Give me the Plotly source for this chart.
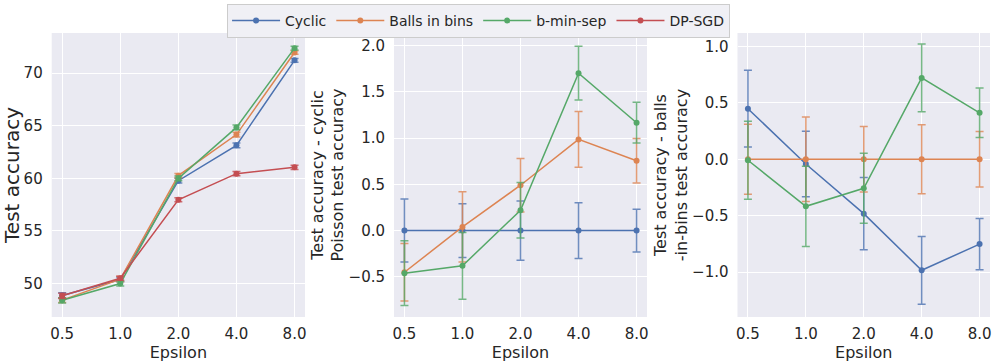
import plotly.graph_objects as go

# ---------------------------------------------------------------------------
# Data
# ---------------------------------------------------------------------------

epsilons = ["0.5", "1.0", "2.0", "4.0", "8.0"]

# Panel 1: absolute test accuracy
acc_cyclic = [48.87, 50.38, 59.77, 63.13, 71.20]
acc_cyclic_err = [0.25, 0.20, 0.22, 0.22, 0.17]
acc_balls = [48.42, 50.42, 60.25, 64.15, 71.95]
acc_balls_err = [0.22, 0.26, 0.20, 0.22, 0.17]
acc_bmin = [48.41, 50.00, 59.99, 64.83, 72.36]
acc_bmin_err = [0.25, 0.23, 0.22, 0.22, 0.17]
acc_dpsgd = [48.83, 50.50, 57.96, 60.44, 61.04]
acc_dpsgd_err = [0.25, 0.20, 0.20, 0.20, 0.20]

# Panel 2: difference vs cyclic Poisson
dc_cyclic = [0.0, 0.0, 0.0, 0.0, 0.0]
dc_cyclic_err = [0.34, 0.29, 0.32, 0.30, 0.23]
dc_balls = [-0.45, 0.04, 0.49, 0.985, 0.755]
dc_balls_err = [0.31, 0.38, 0.29, 0.30, 0.24]
dc_bmin = [-0.46, -0.38, 0.22, 1.70, 1.165]
dc_bmin_err = [0.35, 0.36, 0.30, 0.29, 0.22]

# Panel 3: difference vs balls-in-bins
db_cyclic = [0.448, -0.042, -0.482, -0.984, -0.752]
db_cyclic_err = [0.34, 0.29, 0.32, 0.30, 0.227]
db_balls = [0.0, 0.0, 0.0, 0.0, 0.0]
db_balls_err = [0.31, 0.375, 0.29, 0.306, 0.245]
db_bmin = [-0.009, -0.417, -0.257, 0.721, 0.412]
db_bmin_err = [0.345, 0.356, 0.31, 0.30, 0.22]

COLORS = {
    "Cyclic": "#4C72B0",
    "Balls in bins": "#DD8452",
    "b-min-sep": "#55A868",
    "DP-SGD": "#C44E52",
}
ERR_COLORS = {
    "Cyclic": "rgba(76,114,176,0.8)",
    "Balls in bins": "rgba(221,132,82,0.8)",
    "b-min-sep": "rgba(85,168,104,0.8)",
    "DP-SGD": "rgba(196,78,82,0.8)",
}

panels = [
    [("Cyclic", acc_cyclic, acc_cyclic_err), ("Balls in bins", acc_balls, acc_balls_err),
     ("b-min-sep", acc_bmin, acc_bmin_err), ("DP-SGD", acc_dpsgd, acc_dpsgd_err)],
    [("Cyclic", dc_cyclic, dc_cyclic_err), ("Balls in bins", dc_balls, dc_balls_err),
     ("b-min-sep", dc_bmin, dc_bmin_err)],
    [("Cyclic", db_cyclic, db_cyclic_err), ("Balls in bins", db_balls, db_balls_err),
     ("b-min-sep", db_bmin, db_bmin_err)],
]

W, H = 997, 364
TOP, BOTTOM = 33, 47
PLOT_H = H - TOP - BOTTOM
x_domains = [(51.7, 305.0), (394.0, 647.0), (737.5, 990.0)]
y_ranges = [[46.82, 73.8], [-0.933, 2.134], [-1.398, 1.119]]
y_ticks = [[50, 55, 60, 65, 70], [-0.5, 0.0, 0.5, 1.0, 1.5, 2.0], [-1.0, -0.5, 0.0, 0.5, 1.0]]
y_titles = [
    "Test accuracy",
    "Test accuracy - cyclic<br>Poisson test accuracy",
    "Test accuracy - balls<br>-in-bins test accuracy",
]
y_title_sizes = [20, 16, 16]
y_standoffs = [3, 0, 0]

FONT = "DejaVu Sans"
TEXT = "#262626"

fig = go.Figure()
for i, series in enumerate(panels):
    suffix = "" if i == 0 else str(i + 1)
    for name, vals, errs in series:
        fig.add_trace(go.Scatter(
            x=epsilons,
            y=vals,
            mode="lines+markers",
            name=name,
            legendgroup=name,
            showlegend=(i == 0),
            line=dict(color=COLORS[name], width=1.5),
            marker=dict(color=COLORS[name], size=6),
            error_y=dict(type="data", array=errs, visible=True,
                         color=ERR_COLORS[name], thickness=1.5, width=4),
            xaxis="x" + suffix,
            yaxis="y" + suffix,
        ))

layout = dict(
    width=W,
    height=H,
    margin=dict(l=0, r=0, t=TOP, b=BOTTOM, autoexpand=False),
    paper_bgcolor="white",
    plot_bgcolor="#EAEAF2",
    font=dict(family=FONT, size=15, color=TEXT),
    legend=dict(
        orientation="h",
        x=0.48, xanchor="center",
        y=1 + (TOP - 4) / PLOT_H, yanchor="top",
        bgcolor="#F0F0F5",
        bordercolor="#CCCCCC",
        borderwidth=1,
        itemwidth=48,
        font=dict(size=14, color=TEXT),
    ),
    showlegend=True,
)
for i in range(3):
    suffix = "" if i == 0 else str(i + 1)
    x0, x1 = x_domains[i]
    layout["xaxis" + suffix] = dict(
        domain=[x0 / W, x1 / W],
        type="category",
        range=[-0.18, 4.18],
        anchor="y" + suffix,
        showgrid=True, gridcolor="white", gridwidth=1.2,
        zeroline=False, showline=False,
        ticks="outside", ticklen=3, tickcolor="rgba(0,0,0,0)",
        tickfont=dict(size=15, color=TEXT),
        title=dict(text="Epsilon", font=dict(size=16, color=TEXT), standoff=0),
    )
    layout["yaxis" + suffix] = dict(
        domain=[0, 1],
        range=y_ranges[i],
        anchor="x" + suffix,
        tickmode="array",
        tickvals=y_ticks[i],
        tickformat="d" if i == 0 else ".1f",
        showgrid=True, gridcolor="white", gridwidth=1.2,
        zeroline=False, showline=False,
        ticks="outside", ticklen=5, tickcolor="rgba(0,0,0,0)",
        tickfont=dict(size=15, color=TEXT),
        title=dict(text=y_titles[i], font=dict(size=y_title_sizes[i], color=TEXT),
                   standoff=y_standoffs[i]),
    )
fig.update_layout(**layout)

# the page body has a default 8px margin; drop it so the figure fills the window
fig.write_html(
    "out.html",
    config={"displayModeBar": False},
    post_script="document.body.style.margin = '0';",
)
